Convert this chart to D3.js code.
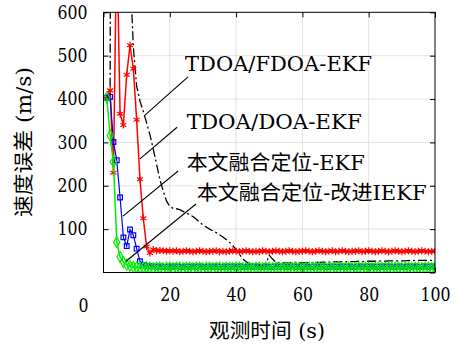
<!DOCTYPE html>
<html>
<head>
<meta charset="utf-8">
<script src="https://d3js.org/d3.v7.min.js"></script>
<style>
  body { margin: 0; background: #fff; }
  text { font-family: "DejaVu Serif", "Noto Sans CJK SC", serif; fill: #000; }
</style>
</head>
<body>
<div id="chart"></div>
<script>
// sample times (s)
const time = d3.range(1, 101);

// velocity error (m/s) per method
const fdoaEkf = [403,398,5000,3500,2400,1600,1100,700,520,430,
  395,372,345,318,285,250,215,188,165,152,
  148,147,145,141,137,133,129,123,116,110,
  105,100,96,92,87,82,76,70,62,53,
  42,32,25,20,17,16,16,17,20,40,
  31,23,22,22,22,22,22,23,22,23,
  23,23,23,24,23,24,24,24,24,25,
  24,25,25,25,25,25,26,25,26,26,
  26,26,26,27,26,27,27,27,27,27,
  27,28,27,28,28,28,28,28,28,28];

const doaEkf = [403,420,230,780,366,340,456,524,470,352,
  215,125,60,45,53,50,51,50,49,50,
  49,50,48,49,50,49,48,49,50,49,
  48,49,49,50,48,49,48,49,50,49,
  48,49,50,49,48,49,48,50,49,48,
  49,50,49,48,49,50,49,48,49,49,
  50,49,48,49,50,49,48,49,50,48,
  49,50,49,48,49,49,50,48,49,50,
  49,48,49,50,49,48,49,50,49,48,
  49,50,49,48,49,50,49,48,49,49];

const fusionEkf = [403,405,301,259,173,81,61,99,86,55,
  26,17,15,14,14,13,14,13,13,14,
  13,14,13,13,14,13,14,13,14,13,
  13,14,13,14,13,13,14,13,14,13,
  14,13,13,14,13,14,13,13,14,13,
  13,14,13,14,13,13,14,13,14,13,
  14,13,13,14,13,14,13,13,14,13,
  13,14,13,14,13,13,14,13,14,13,
  14,13,13,14,13,14,13,13,14,13,
  13,14,13,14,13,13,14,13,14,13];

const fusionIekf = [403,316,255,70,36,24,18,15,13,12,
  11,11,12,11,10,11,11,10,11,11,
  10,11,11,10,11,11,10,11,11,10,
  11,11,10,11,11,10,11,11,10,11,
  11,10,11,11,10,11,11,10,11,11,
  10,11,11,10,11,11,10,11,11,10,
  11,11,10,11,11,10,11,11,10,11,
  11,10,11,11,10,11,11,10,11,11,
  10,11,11,10,11,11,10,11,11,10,
  11,11,10,11,11,10,11,11,10,11];

const xTicks = [0, 20, 40, 60, 80, 100];
const yTicks = [0, 100, 200, 300, 400, 500, 600];

// annotation labels, text anchor (t, v) and leader line (t, v) -> (t, v)
const labels = ["TDOA/FDOA-EKF", "TDOA/DOA-EKF", "本文融合定位-EKF", "本文融合定位-改进IEKF"];
const labelAt = [[24.6, 478], [25.1, 344], [25.1, 248], [28.1, 179]];
const leaders = [[[25.5, 451], [12.5, 363]], [[22.2, 335], [11.0, 262]],
                 [[22.5, 234], [5.9, 130]], [[27.9, 158], [6.8, 26]]];

const W = 458, H = 350;
const margin = {top: 12.3, right: 23, bottom: 77.5, left: 103.5};
const width = W - margin.left - margin.right,
      height = H - margin.top - margin.bottom;

const root = d3.select("#chart").append("svg")
    .attr("width", W).attr("height", H);
const svg = root.append("g")
    .attr("transform", `translate(${margin.left},${margin.top})`);

const x = d3.scaleLinear().domain([0, 100]).range([0, width]);
const y = d3.scaleLinear().domain([0, 600]).range([height, 0]);

svg.append("clipPath").attr("id", "clip")
  .append("rect").attr("width", width).attr("height", height);

// grid
svg.append("g").selectAll("line")
  .data(xTicks.slice(1, -1))
  .join("line")
    .attr("x1", d => x(d)).attr("x2", d => x(d))
    .attr("y1", 0).attr("y2", height)
    .attr("stroke", "#e3e3e3");
svg.append("g").selectAll("line")
  .data(yTicks.slice(1, -1))
  .join("line")
    .attr("y1", d => y(d)).attr("y2", d => y(d))
    .attr("x1", 0).attr("x2", width)
    .attr("stroke", "#e3e3e3");

// axes (ticks inside, box)
const tl = 5;
svg.append("g").attr("transform", `translate(0,${height})`)
  .call(d3.axisBottom(x).tickValues(xTicks.slice(1)).tickSizeInner(-tl).tickSizeOuter(0).tickPadding(16))
  .call(g => g.select(".domain").remove());
svg.append("g")
  .call(d3.axisTop(x).tickValues(xTicks).tickSizeInner(-tl).tickSizeOuter(0).tickFormat(""))
  .call(g => g.select(".domain").remove());
svg.append("g")
  .call(d3.axisLeft(y).tickValues(yTicks.slice(1)).tickSizeInner(-tl).tickSizeOuter(0).tickPadding(16))
  .call(g => g.select(".domain").remove());
svg.append("g").attr("transform", `translate(${width},0)`)
  .call(d3.axisRight(y).tickValues(yTicks).tickSizeInner(-tl).tickSizeOuter(0).tickFormat(""))
  .call(g => g.select(".domain").remove());

svg.selectAll("g").attr("font-family", null);
svg.selectAll(".tick text")
  .style("font-size", "18px")
  .attr("textLength", function() { return this.textContent.length * 10; })
  .attr("lengthAdjust", "spacingAndGlyphs");

// lone origin label
svg.append("text")
  .attr("x", x(0) - 20).attr("y", y(0) + 35)
  .attr("text-anchor", "middle").attr("dominant-baseline", "middle")
  .attr("textLength", 10).attr("lengthAdjust", "spacingAndGlyphs")
  .style("font-size", "18px")
  .text("0");

// series
const plot = svg.append("g").attr("clip-path", "url(#clip)");
const line = d3.line().x((d, i) => x(time[i])).y(d => y(d));

const series = [
  {vals: fdoaEkf, color: "#000", width: 1.3, dash: "9,3,2,3", sym: null},
  {vals: doaEkf, color: "#ff0000", width: 1.5, dash: null, sym: d3.symbolAsterisk, size: 34},
  {vals: fusionEkf, color: "#0000ff", width: 1.2, dash: null, sym: d3.symbolSquare, size: 22},
  {vals: fusionIekf, color: "#00ee00", width: 1.5, dash: null, sym: d3.symbolDiamond, size: 34}
];

series.forEach(s => {
  plot.append("path")
    .datum(s.vals)
    .attr("d", line)
    .attr("fill", "none")
    .attr("stroke", s.color)
    .attr("stroke-width", s.width)
    .attr("stroke-dasharray", s.dash);
  if (s.sym) {
    plot.append("g").selectAll("path")
      .data(s.vals)
      .join("path")
        .attr("transform", (d, i) => `translate(${x(time[i])},${y(d)})`)
        .attr("d", d3.symbol().type(s.sym).size(s.size))
        .attr("fill", "none")
        .attr("stroke", s.color)
        .attr("stroke-width", 1.2);
  }
});

// box
svg.append("rect")
  .attr("width", width).attr("height", height)
  .attr("fill", "none").attr("stroke", "#000").attr("stroke-width", 1);

// annotations
svg.append("g").selectAll("line")
  .data(leaders)
  .join("line")
    .attr("x1", d => x(d[0][0])).attr("y1", d => y(d[0][1]))
    .attr("x2", d => x(d[1][0])).attr("y2", d => y(d[1][1]))
    .attr("stroke", "#000").attr("stroke-width", 1.1);

const labelLen = [187, 175, 178, 230];
svg.append("g").selectAll("text")
  .data(labels)
  .join("text")
    .attr("x", (d, i) => x(labelAt[i][0]))
    .attr("y", (d, i) => y(labelAt[i][1]))
    .attr("dominant-baseline", "middle")
    .attr("textLength", (d, i) => labelLen[i])
    .attr("lengthAdjust", "spacingAndGlyphs")
    .style("font-size", "20px")
    .text(d => d);

// axis titles
root.append("text")
  .attr("transform", "translate(25,142) rotate(-90)")
  .attr("text-anchor", "middle").attr("dominant-baseline", "middle")
  .attr("textLength", 150).attr("lengthAdjust", "spacingAndGlyphs")
  .style("font-size", "20px")
  .text("速度误差 (m/s)");

root.append("text")
  .attr("x", 267).attr("y", 332)
  .attr("text-anchor", "middle").attr("dominant-baseline", "middle")
  .attr("textLength", 116).attr("lengthAdjust", "spacingAndGlyphs")
  .style("font-size", "20px")
  .text("观测时间 (s)");
</script>
</body>
</html>
